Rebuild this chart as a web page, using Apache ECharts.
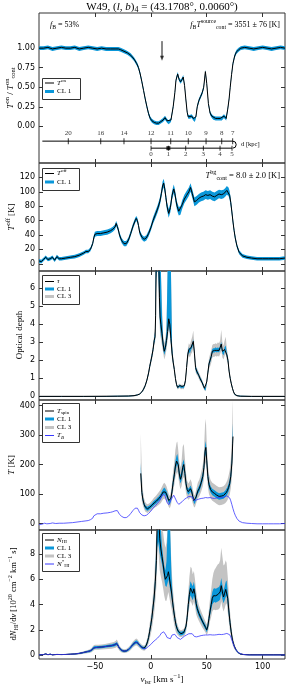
<!DOCTYPE html>
<html><head><meta charset="utf-8">
<script src="https://cdn.jsdelivr.net/npm/echarts@6/dist/echarts.min.js"></script>
<style>html,body{margin:0;padding:0;background:#fff}#c{width:287px;height:688px}</style>
</head><body><div id="c"></div><script>
// ---------------- DATA ----------------
const xTicks = [-50, 0, 50, 100];
const yTicks1 = [0, 0.25, 0.5, 0.75, 1];
const yTicks2 = [0, 20, 40, 60, 80, 100, 120];
const yTicks3 = [0, 1, 2, 3, 4, 5, 6];
const yTicks4 = [0, 100, 200, 300, 400];
const yTicks5 = [0, 2, 4, 6, 8];

// Panel 1: T_on / T_on_cont
const p1V = [-100,-96,-92,-88,-84,-80,-76,-72,-68,-64,
 -60,-56,-52,-48,-44,-40,-36,-32,-29,-27,
 -24,-21,-18,-15,-12.5,-11,-9.5,-8,-6.5,-5,
 -3.5,-2,-0.5,1,3,5,7,9,11,12.7,
 14.5,16,18,20,21.5,22.5,24,25.3,26.6,28,
 29,30.2,31.3,32.5,33.5,35,36.5,38,39.3,40.3,
 41.5,43,44.5,46,47.3,48.8,50,51.5,53,54.5,
 56,58,60,62,63.5,65.4,67.4,68.8,70,71,
 72.2,73.4,75,76.5,78.5,80.5,84,88,92,96,
 100,104,108,112,116,120];
const p1Y = [1.00,1.00,1.01,0.99,1.00,1.01,1.00,1.00,1.01,0.99,
 1.00,1.01,1.00,0.99,1.00,0.99,0.99,0.99,0.99,0.98,
 0.96,0.94,0.91,0.86,0.80,0.75,0.67,0.57,0.46,0.35,
 0.25,0.16,0.10,0.07,0.05,0.04,0.04,0.06,0.08,0.11,
 0.07,0.05,0.08,0.25,0.43,0.59,0.67,0.60,0.57,0.60,
 0.63,0.52,0.35,0.18,0.12,0.12,0.13,0.10,0.08,0.12,
 0.25,0.33,0.38,0.43,0.50,0.70,0.55,0.29,0.17,0.13,
 0.11,0.10,0.10,0.10,0.10,0.13,0.10,0.22,0.35,0.50,
 0.66,0.80,0.90,0.95,0.98,1.00,1.01,1.00,0.99,1.00,
 1.01,1.00,0.99,1.00,1.01,1.00];
const p1Err = 0.025;
// kinematic distance scale (positions in km/s where each distance sits)
const distFarLabels = [20, 16, 14, 12, 11, 10, 9, 8, 7];
const distFarV = [-73.8, -44.8, -24.0, 0.2, 17.8, 33.5, 49.4, 63.4, 73.2];
const distNearLabels = [0, 1, 2, 3, 4, 5];
const distNearV = [0.2, 15.7, 31.2, 47.0, 61.9, 72.6];
const distLineStart = -97;
const distMarkerV = 15.7;
const arrowV = 10;

// Panel 2: T_off
const p2V = [-100,-98,-96,-94,-92,-90,-88,-86,-84,-82,
 -80,-76,-72,-68,-64,-60,-58,-56,-54,-52,
 -51,-50,-48,-45,-42,-39,-36,-34,-32,-31,
 -30,-29,-28,-26,-24,-22,-20,-18,-16,-14,
 -13,-12,-11,-10,-8,-6,-4,-2,0,2,
 4,6,8,9.5,10.5,11.5,12.5,13.5,14.5,16,
 17.5,19,20.5,21.5,22.5,23.5,25,26.5,28,30,
 32,34,35.5,37,39,41,43,45,47,49,
 51,53,55,57,59,61,63,65,66.5,68,
 69.5,70.5,71.5,72.5,73.5,74.5,75.5,77,79,82,
 86,90,95,100,105,110,115,120];
const p2T = [4,3,6,9,6,7,9,5,10,7,
 7,8,9,10,12,15,17,17,20,28,
 36,41,42,42,43,44,46,48,51,56,
 52,47,40,32,28,28,33,42,52,60,
 63,60,53,44,37,34,36,42,50,60,
 68,76,86,98,108,112,104,92,80,70,
 78,95,104,98,88,80,73,74,82,90,
 95,100,106,98,86,88,91,93,94,96,
 95,96,94,93,95,97,96,97,99,102,
 100,95,85,72,58,46,36,25,16,11,
 9,8,7,7,7,7,7,8];
const p2Err = [2.5,2.5,2.5,2.5,2.5,2.5,2.5,2.5,2.5,2.5,
 2.5,2.5,2.5,2.5,2.5,2.5,2.5,2.5,2.5,2.5,
 3.5,3.5,3.5,3.5,3.5,3.5,3.5,3.5,3.5,3.5,
 3.5,3.5,3.5,3.5,3.5,3.5,3.5,3.5,3.5,3.5,
 3.5,3.5,3.5,3.5,3.5,3.5,3.5,4,4,4.5,
 5,5,5.5,5.5,6,6,6,6,6,6,
 6,6,6,6,6,6,6,6,6,6,
 6,6,6,6,6,6,6,6,6,6,
 6,6,6,6,6,6,6,6,6,6,
 6,6,5.5,5,4.5,4,3.5,3,2.8,2.5,
 2.5,2.5,2.5,2.5,2.5,2.5,2.5,2.5];

// Panel 3: optical depth
const p3V = [-100,-80,-60,-40,-30,-20,-15,-12,-10,-8,
 -6.5,-5,-3.5,-2,-1,0,1,2,3,3.8,
 4.3,4.8,5.5,6.5,7.2,7.7,8.3,9,10,11,
 12,13,14,15,16,17,18,19,20,21,
 22,23,24,25,26,27,28,29,30,31,
 32,33,34,35,36,37,38,39,40,41,
 42,43,44,45,46,47,48,49,50,51,
 52,53,54,55,56,57,58,59,60,61,
 62,63,64,65,66,67,68,69,70,71,
 72,73,74,75,77,80,90,100,120];
const p3Tau = [0,0,0,0.005,0.01,0.02,0.04,0.08,0.13,0.25,
 0.4,0.6,0.9,1.3,1.65,1.95,2.25,2.6,3.1,3.3,
 4.5,7.5,12,12,7.5,5.5,4.4,4.0,3.5,2.9,
 2.5,2.7,3.1,3.6,4.3,4.0,3.2,2.4,1.9,1.5,
 1.0,0.65,0.5,0.55,0.6,0.5,0.55,0.5,0.6,0.9,
 1.6,2.3,2.6,2.5,2.7,2.8,3.05,2.4,1.6,1.4,
 1.3,1.15,1.0,0.9,0.75,0.6,0.45,0.4,0.8,1.3,
 1.8,2.0,2.2,2.5,2.55,2.55,2.6,2.55,2.6,2.55,
 2.7,2.9,2.5,2.4,2.6,2.7,2.3,2.0,1.4,1.0,
 0.7,0.45,0.25,0.12,0.04,0.01,0,0,0];
const p3C1lo = [0.02,0.02,0.02,0.02,0.02,0.02,0.02,0.02,0.02,0.02,
 0.05,0.05,0.06,0.08,0.1,0.1,0.12,0.12,0.15,0.2,
 0.5,1,2,2,1.5,0.8,0.6,0.5,0.4,0.25,
 0.2,0.2,0.25,0.3,0.4,0.4,0.3,0.2,0.12,0.1,
 0.08,0.06,0.06,0.06,0.06,0.06,0.06,0.06,0.06,0.08,
 0.12,0.12,0.12,0.12,0.12,0.12,0.12,0.12,0.12,0.12,
 0.08,0.08,0.08,0.08,0.08,0.08,0.08,0.08,0.1,0.12,
 0.12,0.12,0.12,0.12,0.12,0.12,0.12,0.12,0.12,0.12,
 0.12,0.12,0.12,0.12,0.12,0.12,0.12,0.12,0.1,0.08,
 0.06,0.05,0.04,0.03,0.02,0.02,0.02,0.02,0.02];
const p3C1hi = [0.02,0.02,0.02,0.02,0.02,0.02,0.02,0.02,0.02,0.02,
 0.05,0.05,0.06,0.08,0.1,0.1,0.12,0.12,0.15,0.3,
 3,5,5,5,5,5,5,5,1,0.3,
 0.2,0.25,0.5,5,5,5,5,0.4,0.12,0.1,
 0.08,0.06,0.06,0.06,0.06,0.06,0.06,0.06,0.06,0.08,
 0.12,0.12,0.12,0.12,0.12,0.12,0.12,0.12,0.12,0.12,
 0.08,0.08,0.08,0.08,0.08,0.08,0.08,0.08,0.1,0.12,
 0.12,0.12,0.12,0.12,0.12,0.12,0.12,0.12,0.12,0.12,
 0.12,0.12,0.12,0.12,0.12,0.12,0.12,0.12,0.1,0.08,
 0.06,0.05,0.04,0.03,0.02,0.02,0.02,0.02,0.02];
const p3C3lo = [0.04,0.04,0.04,0.04,0.04,0.04,0.04,0.04,0.04,0.04,
 0.1,0.1,0.12,0.15,0.18,0.2,0.22,0.25,0.3,0.35,
 0.8,1.5,3,3,2.5,1.3,1,0.8,0.7,0.45,
 0.45,0.45,0.5,0.5,0.6,0.6,0.5,0.4,0.25,0.2,
 0.15,0.12,0.12,0.12,0.12,0.12,0.12,0.12,0.12,0.15,
 0.25,0.3,0.35,0.35,0.35,0.35,0.35,0.3,0.25,0.2,
 0.18,0.18,0.18,0.15,0.15,0.12,0.12,0.12,0.15,0.2,
 0.3,0.35,0.35,0.35,0.35,0.35,0.35,0.35,0.35,0.35,
 0.35,0.35,0.35,0.35,0.35,0.35,0.3,0.25,0.2,0.15,
 0.12,0.1,0.08,0.05,0.04,0.04,0.04,0.04,0.04];
const p3C3hi = [0.04,0.04,0.04,0.04,0.04,0.04,0.04,0.04,0.04,0.04,
 0.1,0.1,0.12,0.15,0.18,0.2,0.22,0.25,0.3,0.5,
 4,6,6,6,6,6,6,6,1.5,0.5,
 0.45,0.5,0.8,6,6,6,6,0.6,0.3,0.2,
 0.15,0.12,0.12,0.12,0.12,0.12,0.12,0.12,0.12,0.15,
 0.25,0.3,0.35,0.35,0.4,0.5,0.6,0.35,0.25,0.2,
 0.18,0.18,0.18,0.15,0.15,0.12,0.12,0.12,0.15,0.2,
 0.3,0.35,0.35,0.35,0.35,0.35,0.35,0.35,0.4,0.4,
 0.4,0.8,0.5,0.4,0.5,0.6,0.35,0.25,0.2,0.15,
 0.12,0.1,0.08,0.05,0.04,0.04,0.04,0.04,0.04];

// Panel 4: spin temperature and T_B
const p4V = [-9,-8,-7,-6,-5,-4,-3,-2,-1,0,
 1,2,3,4,5,6,7,8,9,10,
 11,12,13,14,15,16,17,18,19,20,
 21,22,23,23.7,24.5,25.5,26.5,27.5,28.5,29.5,
 30.5,31.5,32.5,33.5,34.5,35.5,36.5,37.5,38.5,39.3,
 40.5,42,43.5,45,46.5,47.5,48.5,49.2,50,51,
 52,53.5,55,57,59,61,63,65,66.5,67.5,
 68.5,69.5,70.5,71.5,72.5,73.2,73.5];
const p4Ts = [170,105,80,65,56,52,50,52,55,58,
 62,66,70,73,76,80,84,88,93,100,
 107,111,107,100,90,78,72,85,110,140,
 165,195,212,218,200,168,150,162,190,200,
 170,135,115,108,112,118,110,92,78,74,
 90,110,120,138,160,190,245,258,215,160,
 132,115,107,102,96,92,93,95,100,105,
 112,122,135,160,205,270,295];
const p4C1lo = [20,12,8,7,7,7,7,7,7,7,
 7,8,8,8,8,8,8,9,9,10,
 10,11,11,10,9,8,8,9,11,13,
 15,17,18,18,17,15,14,15,17,17,
 15,12,10,10,10,11,10,9,8,8,
 9,10,11,12,14,16,20,22,18,14,
 12,11,11,11,11,11,11,11,11,12,
 12,13,14,16,20,25,30];
const p4C1hi = [35,12,8,7,7,7,7,7,7,7,
 7,8,8,8,8,8,8,9,9,10,
 10,11,11,10,9,8,8,9,11,13,
 15,17,18,18,17,15,14,15,17,17,
 15,12,10,10,10,11,10,9,8,8,
 9,10,11,12,14,16,20,22,18,14,
 12,11,11,11,11,11,11,11,11,12,
 12,13,14,16,22,35,45];
const p4C3lo = [40,30,20,16,15,14,14,14,14,15,
 15,16,17,18,19,20,21,22,23,24,
 25,26,26,25,23,21,20,22,26,30,
 34,38,42,42,40,36,34,36,40,42,
 38,32,28,27,28,29,27,24,21,20,
 22,25,27,30,34,40,48,50,44,36,
 32,30,30,30,30,30,30,30,31,32,
 33,35,38,42,50,60,70];
const p4C3hi = [135,60,30,20,17,16,15,15,15,16,
 16,17,18,19,20,21,22,23,24,25,
 26,27,27,26,24,22,21,24,30,38,
 45,55,62,60,50,42,40,50,70,70,
 50,36,30,28,30,32,30,26,22,21,
 24,28,30,34,40,55,90,97,60,40,
 34,32,31,31,31,31,31,31,32,34,
 36,40,45,55,80,120,160];
const p4TbV = [-100,-97,-95,-93,-92,-90,-88,-85,-82,-78,
 -74,-70,-66,-62,-58,-56,-54,-52,-51,-50,
 -48,-45,-42,-39,-36,-34,-32,-31,-30,-29,
 -28,-26,-24,-22,-20,-18,-16,-14,-13,-12,
 -11,-10,-8,-6,-4,-2,0,2,4,6,
 8,9.5,10.5,11.5,12.5,13.5,14.5,16,17.5,19,
 20.5,21.5,22.5,23.5,25,26.5,28,30,32,34,
 35.5,37,39,41,43,45,47,49,51,53,
 55,57,59,61,63,65,66.5,68,69.5,70.5,
 71.5,72.5,73.5,74.5,75.5,77,79,82,86,90,
 95,100,105,110,115,120];
const p4Tb = [-4,-2,1,-1,3,0,2,0,1,1,
 2,3,5,7,9,10,13,18,26,31,
 33,33,35,36,38,40,43,47,44,38,
 31,24,20,20,25,34,44,52,55,52,
 45,37,29,26,28,34,42,52,60,68,
 78,90,98,100,96,84,72,64,70,87,
 96,90,80,72,65,66,74,82,87,92,
 98,90,78,80,83,85,86,88,87,88,
 86,85,87,89,88,89,91,94,92,87,
 77,64,50,38,28,17,8,3,1,0,
 -1,-1,-1,-1,-1,0];

// Panel 5: column density
const p5V = [-100,-96,-94,-92,-90,-88,-84,-80,-76,-72,
 -68,-64,-60,-57,-55,-53,-52,-51,-50,-47,
 -44,-41,-38,-35,-33,-31.5,-30.5,-29.5,-28,-26,
 -24,-22,-20,-18,-16,-14,-13,-12,-11,-10,
 -8,-6,-5,-4,-3,-2,-1,0,1,2,
 3,4,5,5.7,6.5,7.3,8,9,10,11,
 12,13,14,15,15.7,16.5,17.3,18.5,19.5,20.5,
 21.5,22.5,23.5,24.5,25.5,27,28.5,29.5,30.5,31.5,
 32.5,33.5,34.5,35.5,36.5,37.5,38.5,39.5,40.5,41.5,
 43,44.5,46,47.5,49,50,51,52,53,54,
 55,56,57,58,59,60,61,62,63,64,
 65,66,67,67.8,68.8,69.8,70.8,71.8,73,74.5,
 76,78,80,83,88,95,100,110,120];
const p5N = [0.02,0.05,0.1,0.04,0.08,0.03,0.06,0.05,0.06,0.08,
 0.1,0.14,0.22,0.28,0.32,0.4,0.5,0.58,0.63,0.63,
 0.65,0.68,0.72,0.76,0.8,0.85,0.92,0.8,0.55,0.38,
 0.32,0.34,0.45,0.62,0.85,1.0,1.05,1.0,0.9,0.78,
 0.62,0.55,0.62,0.8,1.05,1.4,1.9,2.4,3.0,3.8,
 4.6,5.8,7.5,10.5,12,10.5,9.2,8.4,7.8,7.2,
 6.5,6.0,5.9,6.3,6.6,6.2,5.7,5.0,4.2,3.5,
 2.9,2.4,2.1,1.9,1.75,1.7,1.75,1.8,1.95,2.3,
 3.0,4.0,4.8,5.3,5.1,4.9,5.25,4.8,4.1,3.7,
 3.3,3.0,2.7,2.45,2.2,2.0,2.3,2.9,3.5,4.0,
 4.5,4.7,4.75,4.7,4.75,4.8,4.85,5.0,5.5,5.0,
 4.6,4.9,5.2,5.3,4.5,3.5,2.6,1.9,1.2,0.75,
 0.45,0.22,0.1,0.05,0.03,0.03,0.03,0.03,0.03];
const p5C1lo = [0.03,0.03,0.03,0.03,0.03,0.03,0.03,0.03,0.03,0.03,
 0.04,0.05,0.06,0.07,0.08,0.09,0.1,0.1,0.1,0.1,
 0.1,0.1,0.1,0.11,0.12,0.12,0.13,0.12,0.1,0.09,
 0.08,0.08,0.09,0.1,0.12,0.13,0.13,0.13,0.12,0.11,
 0.1,0.1,0.1,0.12,0.15,0.18,0.22,0.25,0.3,0.35,
 0.4,0.5,0.7,2,3,2,1.2,0.8,0.6,0.55,
 0.5,0.5,0.5,0.6,0.6,0.6,0.5,0.45,0.35,0.3,
 0.25,0.2,0.18,0.15,0.15,0.15,0.15,0.15,0.16,0.2,
 0.3,0.4,0.5,0.55,0.55,0.55,0.55,0.5,0.4,0.3,
 0.25,0.22,0.2,0.2,0.18,0.18,0.22,0.3,0.35,0.45,
 0.5,0.55,0.55,0.55,0.55,0.55,0.55,0.6,0.6,0.55,
 0.5,0.55,0.6,0.6,0.5,0.4,0.3,0.22,0.15,0.1,
 0.07,0.05,0.04,0.03,0.03,0.03,0.03,0.03,0.03];
const p5C1hi = [0.03,0.03,0.03,0.03,0.03,0.03,0.03,0.03,0.03,0.03,
 0.04,0.05,0.06,0.07,0.08,0.09,0.1,0.1,0.1,0.1,
 0.1,0.1,0.1,0.11,0.12,0.12,0.13,0.12,0.1,0.09,
 0.08,0.08,0.09,0.1,0.12,0.13,0.13,0.13,0.12,0.11,
 0.1,0.1,0.1,0.12,0.15,0.18,0.22,0.25,0.3,0.35,
 0.4,0.6,1.5,3,3,3,3,1.5,0.8,0.6,
 0.6,0.7,1.5,5,5,5,5,1.2,0.4,0.3,
 0.25,0.2,0.18,0.15,0.15,0.15,0.15,0.15,0.16,0.2,
 0.3,0.4,0.5,0.55,0.55,0.55,0.55,0.5,0.4,0.3,
 0.25,0.22,0.2,0.2,0.18,0.18,0.22,0.3,0.35,0.45,
 0.5,0.55,0.55,0.55,0.55,0.55,0.55,0.6,0.6,0.55,
 0.5,0.55,0.6,0.6,0.5,0.4,0.3,0.22,0.15,0.1,
 0.07,0.05,0.04,0.03,0.03,0.03,0.03,0.03,0.03];
const p5C3lo = [0.04,0.04,0.04,0.04,0.04,0.04,0.04,0.04,0.04,0.04,
 0.06,0.08,0.1,0.12,0.14,0.16,0.18,0.2,0.2,0.2,
 0.2,0.2,0.22,0.24,0.25,0.26,0.28,0.25,0.2,0.16,
 0.15,0.15,0.17,0.2,0.24,0.26,0.27,0.27,0.25,0.22,
 0.2,0.2,0.22,0.28,0.35,0.45,0.6,0.75,0.9,1.1,
 1.3,1.6,2,3,3,3,2.5,2.2,2.0,1.9,
 1.8,1.7,1.6,1.6,1.6,1.6,1.5,1.3,1.0,0.9,
 0.75,0.6,0.45,0.35,0.3,0.28,0.28,0.3,0.35,0.45,
 0.6,0.8,0.95,1.0,1.0,1.0,1.0,0.95,0.85,0.7,
 0.6,0.55,0.5,0.45,0.42,0.42,0.5,0.65,0.8,0.95,
 1.05,1.1,1.15,1.15,1.15,1.2,1.2,1.2,1.25,1.2,
 1.15,1.2,1.2,1.2,1.1,0.9,0.7,0.5,0.35,0.22,
 0.14,0.08,0.05,0.04,0.04,0.04,0.04,0.04,0.04];
const p5C3hi = [0.04,0.04,0.04,0.04,0.04,0.04,0.04,0.04,0.04,0.04,
 0.06,0.08,0.1,0.12,0.14,0.16,0.18,0.2,0.2,0.2,
 0.2,0.2,0.22,0.24,0.25,0.28,0.33,0.28,0.2,0.16,
 0.15,0.15,0.17,0.2,0.24,0.26,0.27,0.27,0.25,0.22,
 0.2,0.2,0.22,0.28,0.35,0.45,0.6,0.75,0.9,1.1,
 1.3,2,3,3,3,3,3,3,2.5,2.5,
 2.5,2.5,3,5,5,5,5,2,1.3,1.0,
 0.8,0.6,0.45,0.35,0.3,0.28,0.28,0.3,0.35,0.5,
 0.7,1.0,1.4,1.7,1.8,1.5,1.4,1.2,1.0,0.8,
 0.65,0.6,0.55,0.5,0.45,0.45,0.55,0.75,1.0,1.2,
 1.5,1.8,2.0,2.2,2.3,2.4,2.4,2.5,3.0,2.8,
 2.5,2.3,2.3,2.0,1.7,1.3,0.9,0.6,0.4,0.25,
 0.14,0.08,0.05,0.04,0.04,0.04,0.04,0.04,0.04];
const p5sV = [-100,-96,-94,-92,-90,-88,-84,-80,-76,-72,
 -68,-64,-60,-57,-55,-53,-52,-51,-50,-47,
 -44,-41,-38,-35,-33,-31.5,-30.5,-29.5,-28,-26,
 -24,-22,-20,-18,-16,-14,-13,-12,-11,-10,
 -8,-6,-4,-2,0,2,4,6,8,9.5,
 10.5,11.5,12.5,13.5,14.5,16,17.5,19,20.5,21.5,
 22.5,23.5,25,26.5,28,30,32,34,35.5,37,
 39,41,43,45,47,49,51,53,55,57,
 59,61,63,65,66.5,68,69.5,70.5,71.5,72.5,
 73.5,74.5,75.5,77,79,82,86,90,100,120];
const p5s = [0.02,0.05,0.1,0.04,0.08,0.03,0.06,0.05,0.06,0.08,
 0.1,0.14,0.22,0.28,0.32,0.4,0.5,0.58,0.63,0.63,
 0.65,0.68,0.72,0.76,0.8,0.85,0.92,0.8,0.55,0.38,
 0.32,0.34,0.45,0.62,0.85,1.0,1.05,1.0,0.9,0.78,
 0.6,0.5,0.55,0.7,0.85,1.05,1.2,1.35,1.55,1.75,
 1.85,1.85,1.78,1.6,1.4,1.25,1.3,1.6,1.72,1.65,
 1.5,1.4,1.25,1.25,1.35,1.5,1.6,1.7,1.8,1.7,
 1.48,1.45,1.5,1.55,1.58,1.6,1.6,1.62,1.6,1.6,
 1.62,1.65,1.63,1.65,1.68,1.72,1.7,1.62,1.45,1.2,
 0.95,0.72,0.52,0.32,0.16,0.07,0.03,0.02,0.02,0.02];

// ---------------- sanity check ----------------
function chk(name, a, b){ if (Array.isArray(b) && a.length !== b.length) throw new Error('length mismatch '+name+' '+a.length+' vs '+b.length); }
chk('p1',p1V,p1Y); chk('p2',p2V,p2T); chk('p2e',p2V,p2Err);
[p3Tau,p3C1lo,p3C1hi,p3C3lo,p3C3hi].forEach((a,i)=>chk('p3_'+i,p3V,a));
[p4Ts,p4C1lo,p4C1hi,p4C3lo,p4C3hi].forEach((a,i)=>chk('p4_'+i,p4V,a));
chk('p4tb',p4TbV,p4Tb);
[p5N,p5C1lo,p5C1hi,p5C3lo,p5C3hi].forEach((a,i)=>chk('p5_'+i,p5V,a));
chk('p5s',p5sV,p5s);

// ---------------- LAYOUT / STYLE ----------------
const C1 = '#0a97d9', C3 = '#c3c3c3', CB = '#3838ff', FRAME = '#333';
const SERIF = "'Liberation Serif','DejaVu Serif',serif";
const SANS = "'DejaVu Sans',sans-serif";
const grids = [
  {top: 13,  height: 150, ymin: -0.47, ymax: 1.45, ticks: yTicks1, fmt: v => v.toFixed(2)},
  {top: 163, height: 108, ymin: -10,   ymax: 140,  ticks: yTicks2, fmt: v => String(v)},
  {top: 271, height: 129, ymin: -0.2,  ymax: 6.95, ticks: yTicks3, fmt: v => String(v)},
  {top: 400, height: 130, ymin: -22,   ymax: 419,  ticks: yTicks4, fmt: v => String(v)},
  {top: 530, height: 129, ymin: -0.3,  ymax: 9.9,  ticks: yTicks5, fmt: v => String(v)}
];

const optGrid = [], optX = [], optY = [], series = [];
grids.forEach((g, i) => {
  optGrid.push({left: 39, top: g.top, width: 246, height: g.height, show: true,
    borderColor: FRAME, borderWidth: 1, backgroundColor: 'transparent'});
  ['bottom','top'].forEach(pos => optX.push({
    gridIndex: i, type: 'value', min: -100, max: 120, position: pos,
    axisLine: {show: false, onZero: false}, splitLine: {show: false},
    axisTick: {show: true, inside: true, length: 4, customValues: xTicks, lineStyle: {color: FRAME, width: 1}},
    axisLabel: {show: (i === 4 && pos === 'bottom'), customValues: xTicks, margin: 4,
      fontSize: 8, fontFamily: SANS, color: '#000',
      formatter: v => v < 0 ? '\u2212' + Math.abs(v) : String(v)}
  }));
  ['left','right'].forEach(pos => optY.push({
    gridIndex: i, type: 'value', min: g.ymin, max: g.ymax, position: pos,
    axisLine: {show: false, onZero: false}, splitLine: {show: false},
    axisTick: {show: true, inside: true, length: 4, customValues: g.ticks, lineStyle: {color: FRAME, width: 1}},
    axisLabel: {show: pos === 'left', customValues: g.ticks, margin: 4,
      fontSize: 8, fontFamily: SANS, color: '#000', formatter: g.fmt}
  }));
});

function line(gi, v, y, color, w, z){
  series.push({type: 'line', xAxisIndex: gi*2, yAxisIndex: gi*2,
    data: v.map((x, k) => [x, y[k]]), symbol: 'none', showSymbol: false,
    lineStyle: {color, width: w}, itemStyle: {color}, z, animation: false, silent: true, clip: true});
}
function band(gi, v, y, lo, hi, color, z){
  const g = grids[gi];
  const L = k => Array.isArray(lo) ? lo[k] : lo;
  const H = k => Array.isArray(hi) ? hi[k] : hi;
  const data = v.map((x, k) => [x, y[k] - L(k), y[k] + H(k)]);
  const clamp = t => Math.max(g.ymin, Math.min(g.ymax, t));
  series.push({type: 'custom', xAxisIndex: gi*2, yAxisIndex: gi*2, data, z,
    clip: true, silent: true, animation: false, encode: {x: 0, y: [1, 2]},
    renderItem(params, api){
      if (params.dataIndex !== 0) return null;
      const top = [], bot = [];
      data.forEach(d => { top.push(api.coord([d[0], clamp(d[2])])); bot.push(api.coord([d[0], clamp(d[1])])); });
      return {type: 'polygon', shape: {points: top.concat(bot.reverse())}, style: {fill: color, stroke: null}};
    }});
}

// panel 1
band(0, p1V, p1Y, p1Err, p1Err, C1, 2);
line(0, p1V, p1Y, '#000', 1, 4);
// distance scale
const yFar = -0.19, yNear = -0.28;
series.push({type: 'line', xAxisIndex: 0, yAxisIndex: 0, data: [[distLineStart, yFar], [distFarV[distFarV.length-1], yFar]],
  symbol: 'none', lineStyle: {color: '#000', width: 1}, z: 4, silent: true, animation: false});
series.push({type: 'line', xAxisIndex: 0, yAxisIndex: 0, data: [[distNearV[0], yNear], [distNearV[distNearV.length-1], yNear]],
  symbol: 'none', lineStyle: {color: '#000', width: 1}, z: 4, silent: true, animation: false});
series.push({type: 'scatter', xAxisIndex: 0, yAxisIndex: 0, data: distFarV.map(v => [v, yFar]),
  symbol: 'rect', symbolSize: [1, 6], itemStyle: {color: '#000'}, z: 4, silent: true, animation: false,
  label: {show: true, position: 'top', distance: 1, formatter: p => String(distFarLabels[p.dataIndex]),
    fontSize: 7, fontFamily: SERIF, color: '#000'}});
series.push({type: 'scatter', xAxisIndex: 0, yAxisIndex: 0, data: distNearV.map(v => [v, yNear]),
  symbol: 'rect', symbolSize: [1, 5], itemStyle: {color: '#000'}, z: 4, silent: true, animation: false,
  label: {show: true, position: 'bottom', distance: 0, formatter: p => String(distNearLabels[p.dataIndex]),
    fontSize: 7, fontFamily: SERIF, color: '#000'}});
series.push({type: 'scatter', xAxisIndex: 0, yAxisIndex: 0, data: [[distMarkerV, yNear]],
  symbol: 'rect', symbolSize: 4, itemStyle: {color: '#000'}, z: 5, silent: true, animation: false});
series.push({type: 'custom', xAxisIndex: 0, yAxisIndex: 0, data: [[distFarV[distFarV.length-1], yFar, yNear]],
  silent: true, animation: false, z: 4, encode: {x: 0, y: [1, 2]},
  renderItem(params, api){
    const p1 = api.coord([api.value(0), api.value(1)]);
    const p2 = api.coord([api.value(0), api.value(2)]);
    const r = Math.abs(p2[1] - p1[1]) / 2;
    return {type: 'arc', shape: {cx: p1[0], cy: (p1[1] + p2[1]) / 2, r, startAngle: -Math.PI/2, endAngle: Math.PI/2, clockwise: true},
      style: {stroke: '#000', fill: null, lineWidth: 1}};
  }});
// arrow
series.push({type: 'line', xAxisIndex: 0, yAxisIndex: 0, data: [[arrowV, 1.09], [arrowV, 0.88]],
  symbol: 'none', lineStyle: {color: '#111', width: 1}, z: 5, silent: true, animation: false});
series.push({type: 'scatter', xAxisIndex: 0, yAxisIndex: 0, data: [[arrowV, 0.87]],
  symbol: 'triangle', symbolSize: [4, 5], symbolRotate: 180, itemStyle: {color: '#111'}, z: 5, silent: true, animation: false});

// panel 2
band(1, p2V, p2T, p2Err, p2Err, C1, 2);
line(1, p2V, p2T, '#000', 1, 4);
// panel 3
band(2, p3V, p3Tau, p3C3lo, p3C3hi, C3, 1);
band(2, p3V, p3Tau, p3C1lo, p3C1hi, C1, 2);
line(2, p3V, p3Tau, '#000', 1, 4);
// panel 4
band(3, p4V, p4Ts, p4C3lo, p4C3hi, C3, 1);
band(3, p4V, p4Ts, p4C1lo, p4C1hi, C1, 2);
line(3, p4V, p4Ts, '#000', 1, 4);
line(3, p4TbV, p4Tb, CB, 0.8, 5);
// panel 5
band(4, p5V, p5N, p5C3lo, p5C3hi, C3, 1);
band(4, p5V, p5N, p5C1lo, p5C1hi, C1, 2);
line(4, p5V, p5N, '#000', 1, 4);
line(4, p5sV, p5s, CB, 0.8, 5);

// ---------------- TEXT / LEGENDS ----------------
function rich(fs){
  const s = Math.round(fs * 0.72 * 10) / 10;
  return {
    n:   {fontSize: fs, fontFamily: SERIF, color: '#000'},
    it:  {fontSize: fs, fontFamily: SERIF, fontStyle: 'italic', color: '#000'},
    sup: {fontSize: s, fontFamily: SERIF, color: '#000', padding: [0, 0, fs * 0.8, 0]},
    sub: {fontSize: s, fontFamily: SERIF, color: '#000', padding: [fs * 0.55, 0, 0, 0]},
    subi:{fontSize: s, fontFamily: SERIF, fontStyle: 'italic', color: '#000', padding: [fs * 0.55, 0, 0, 0]}
  };
}
function txt(x, y, text, fs, align, rot){
  return {type: 'text', x, y, rotation: rot || 0, z: 100, silent: true,
    style: {text, rich: rich(fs), align: align || 'left', textAlign: align || 'left',
      verticalAlign: 'middle', textVerticalAlign: 'middle', fill: '#000', fontSize: fs, fontFamily: SERIF}};
}
const graphics = [];
graphics.push(txt(162, 7, '{n|W49, (}{it|l, b}{n|)}{sub|4}{n| = (43.1708°, 0.0060°)}', 11, 'center'));
graphics.push(txt(50, 25, '{it|f}{sub|B}{n| = 53%}', 8, 'left'));
graphics.push(txt(280, 25, '{it|f}{sub|B}{it|T}{sup|source}{sub|cont}{n| = 3551 ± 76 [K]}', 8, 'right'));
graphics.push(txt(280, 176, '{it|T}{sup|bg}{sub|cont}{n| = 8.0 ± 2.0 [K]}', 8.5, 'right'));
graphics.push(txt(241, 144, '{n|d [kpc]}', 6.5, 'left'));
// y labels
graphics.push(txt(11, 88, '{it|T}{sup|on}{n| / }{it|T}{sup|on}{sub|cont}', 9, 'center', Math.PI/2));
graphics.push(txt(12, 217, '{it|T}{sup|off}{n| [K]}', 9, 'center', Math.PI/2));
graphics.push(txt(20, 335, '{n|Optical depth}', 9, 'center', Math.PI/2));
graphics.push(txt(12, 465, '{it|T}{n| [K]}', 9, 'center', Math.PI/2));
graphics.push(txt(14, 594, '{n|d}{it|N}{sub|HI}{n|/d}{it|v}{n| [10}{sup|20}{n| cm}{sup|−2}{n| km}{sup|−1}{n| s]}', 8.5, 'center', Math.PI/2));
// x label
graphics.push(txt(162, 680, '{it|v}{sub|lsr}{n| [km s}{sup|−1}{n|]}', 9, 'center'));

function legend(x, y, w, h, rows){
  graphics.push({type: 'rect', z: 90, silent: true, shape: {x: x + 0.5, y: y + 0.5, width: w, height: h},
    style: {fill: '#fff', stroke: FRAME, lineWidth: 1}});
  rows.forEach(r => {
    graphics.push({type: 'line', z: 95, silent: true, shape: {x1: x + 3, y1: r.y, x2: x + 12, y2: r.y},
      style: {stroke: r.color, lineWidth: r.w}});
    graphics.push(txt(x + 15, r.y, r.text, 7, 'left'));
  });
}
legend(42, 78, 38, 21, [
  {y: 83, color: '#000', w: 1, text: '{it|T}{sup|on}'},
  {y: 91.5, color: C1, w: 3, text: '{n|CL 1}'}]);
legend(42, 168, 37, 22, [
  {y: 173.5, color: '#000', w: 1, text: '{it|T}{sup|off}'},
  {y: 182, color: C1, w: 3, text: '{n|CL 1}'}]);
legend(42, 275, 37, 29, [
  {y: 281.5, color: '#000', w: 1, text: '{it|τ}'},
  {y: 289, color: C1, w: 3, text: '{n|CL 1}'},
  {y: 296.5, color: C3, w: 3, text: '{n|CL 3}'}]);
legend(42, 403, 37, 39, [
  {y: 411, color: '#000', w: 1, text: '{it|T}{sub|spin}'},
  {y: 419, color: C1, w: 3, text: '{n|CL 1}'},
  {y: 427.5, color: C3, w: 3, text: '{n|CL 3}'},
  {y: 435.5, color: CB, w: 1, text: '{it|T}{subi|B}'}]);
legend(42, 533, 37, 38, [
  {y: 540, color: '#000', w: 1, text: '{it|N}{sub|HI}'},
  {y: 548, color: C1, w: 3, text: '{n|CL 1}'},
  {y: 556, color: C3, w: 3, text: '{n|CL 3}'},
  {y: 564, color: CB, w: 1, text: '{it|N}{sup|*}{sub|HI}'}]);

const chart = echarts.init(document.getElementById('c'), null, {renderer: 'canvas'});
chart.setOption({
  animation: false, backgroundColor: '#fff',
  grid: optGrid, xAxis: optX, yAxis: optY, series, graphic: graphics
});
</script></body></html>
